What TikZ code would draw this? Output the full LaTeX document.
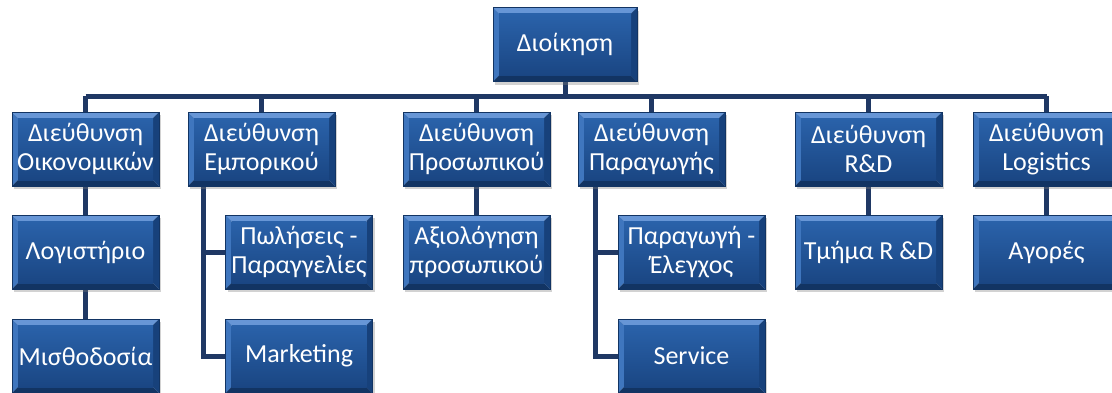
\documentclass[tikz,border=0pt]{standalone}
\usepackage{fontspec}
\setmainfont{Carlito}
\usetikzlibrary{calc,shadows,backgrounds}
\definecolor{linec}{HTML}{1F3864}
\definecolor{boxtop}{HTML}{2A62AA}
\definecolor{boxbot}{HTML}{1A4683}
\definecolor{edgetop}{HTML}{6796D6}
\definecolor{edgeleft}{HTML}{3F76BE}
\definecolor{edgebot}{HTML}{123463}
\definecolor{edgeright}{HTML}{17417B}
\tikzset{
  orgbox/.style={draw=edgebot, line width=0.6pt, minimum width=147pt, minimum height=74pt,
    inner sep=0pt, align=center, text=white, font=\fontsize{26}{29}\selectfont,
    drop shadow={opacity=0.35, shadow xshift=2pt, shadow yshift=-3pt},
    path picture={
      \coordinate (nw) at (path picture bounding box.north west);
      \coordinate (se) at (path picture bounding box.south east);
      \coordinate (ne) at (path picture bounding box.north east);
      \coordinate (sw) at (path picture bounding box.south west);
      \coordinate (inw) at ($(nw)+(6pt,-6pt)$);
      \coordinate (ine) at ($(ne)+(-6pt,-6pt)$);
      \coordinate (ise) at ($(se)+(-6pt,6pt)$);
      \coordinate (isw) at ($(sw)+(6pt,6pt)$);
      \fill[edgetop] (nw) -- (ne) -- (ine) -- (inw) -- cycle;
      \fill[edgeleft] (nw) -- (inw) -- (isw) -- (sw) -- cycle;
      \fill[edgebot] (sw) -- (isw) -- (ise) -- (se) -- cycle;
      \fill[edgeright] (ne) -- (se) -- (ise) -- (ine) -- cycle;
      \shade[top color=boxtop, bottom color=boxbot] (inw) rectangle (ise);
    }},
  conn/.style={draw=linec, line width=5pt},
}
\begin{document}
\begin{tikzpicture}[x=1pt,y=-1pt]
\clip (0,0) rectangle (1112,392);
\coordinate (hm) at (565,96);
\coordinate (b2v) at (203,0);
\coordinate (b4v) at (595,0);
% nodes
\node[orgbox, minimum width=144pt] (top) at (565,44.5) {Διοίκηση};
\node[orgbox] (d1) at (85.5,149) {Διεύθυνση\\Οικονομικών};
\node[orgbox] (d2) at (261.5,149) {Διεύθυνση\\Εμπορικού};
\node[orgbox] (d3) at (476.5,149) {Διεύθυνση\\Προσωπικού};
\node[orgbox] (d4) at (651.5,149) {Διεύθυνση\\Παραγωγής};
\node[orgbox] (d5) at (868.5,149) {Διεύθυνση\\R\&D};
\node[orgbox] (d6) at (1046.5,149) {Διεύθυνση\\Logistics};
\node[orgbox] (c1) at (85.5,252) {Λογιστήριο};
\node[orgbox] (c1b) at (85.5,356) {Μισθοδοσία};
\node[orgbox] (c2) at (299,252) {Πωλήσεις -\\Παραγγελίες};
\node[orgbox] (c2b) at (299,356) {Marketing};
\node[orgbox] (c3) at (476.5,252) {Αξιολόγηση\\προσωπικού};
\node[orgbox] (c4) at (691.5,252) {Παραγωγή -\\Έλεγχος};
\node[orgbox] (c4b) at (691.5,356) {Service};
\node[orgbox] (c5) at (868.5,252) {Τμήμα R \&D};
\node[orgbox] (c6) at (1046.5,252) {Αγορές};
\begin{scope}[on background layer]
\fill[white] (0,0) rectangle (1112,392);
\draw[conn] (top.south) -- (hm);
\draw[conn] (d1.north |- hm) -- (d6.north |- hm);
\foreach \d in {d1,d2,d3,d4,d5,d6} { \draw[conn] (\d.north |- hm) -- (\d.north); }
\draw[conn] (d1.south) -- (c1.north);
\draw[conn] (c1.south) -- (c1b.north);
\draw[conn] (d3.south) -- (c3.north);
\draw[conn] (d5.south) -- (c5.north);
\draw[conn] (d6.south) -- (c6.north);
\draw[conn] (d2.south -| b2v) -- (c2b.west -| b2v) -- (c2b.west);
\draw[conn] (c2.west -| b2v) -- (c2.west);
\draw[conn] (d4.south -| b4v) -- (c4b.west -| b4v) -- (c4b.west);
\draw[conn] (c4.west -| b4v) -- (c4.west);
\end{scope}
\end{tikzpicture}
\end{document}
